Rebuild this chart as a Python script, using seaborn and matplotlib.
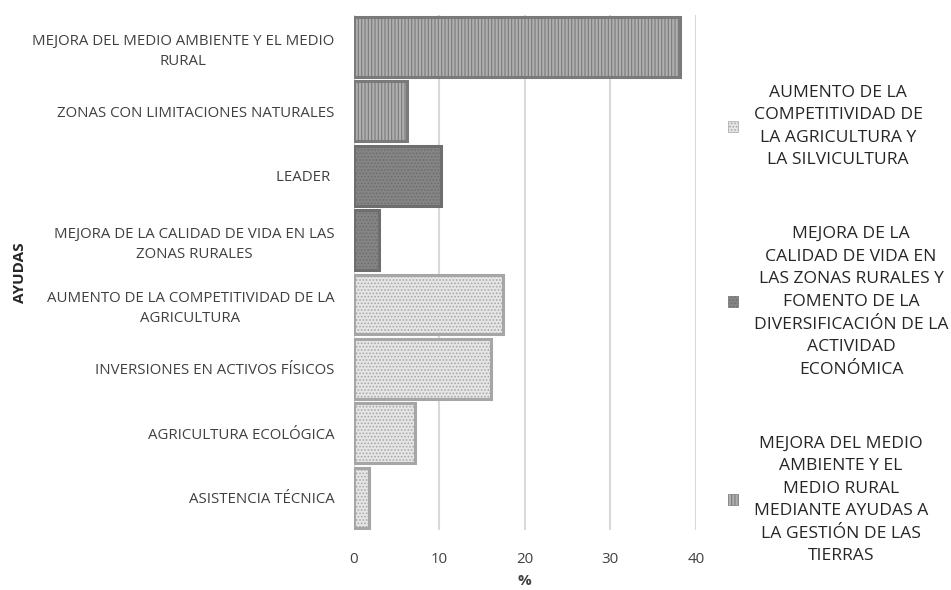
import pandas as pd
import matplotlib
matplotlib.use('Agg')
import matplotlib.pyplot as plt
import seaborn as sns
from matplotlib.patches import Patch

ayudas = ['MEJORA DEL MEDIO AMBIENTE Y EL MEDIO\nRURAL',
          'ZONAS CON LIMITACIONES NATURALES',
          'LEADER ',
          'MEJORA DE LA CALIDAD DE VIDA EN LAS\nZONAS RURALES',
          'AUMENTO DE LA COMPETITIVIDAD DE LA\nAGRICULTURA',
          'INVERSIONES EN ACTIVOS FÍSICOS',
          'AGRICULTURA ECOLÓGICA',
          'ASISTENCIA TÉCNICA']
porcentajes = [38.1, 6.2, 10.2, 3.0, 17.4, 16.0, 7.2, 1.8]
grupos = ['ambiente', 'ambiente', 'vida', 'vida', 'compet', 'compet', 'compet', 'compet']

leyenda = ['AUMENTO DE LA\nCOMPETITIVIDAD DE\nLA AGRICULTURA Y\nLA SILVICULTURA',
           'MEJORA DE LA\nCALIDAD DE VIDA EN\nLAS ZONAS RURALES Y\nFOMENTO DE LA\nDIVERSIFICACIÓN DE LA\nACTIVIDAD\nECONÓMICA',
           'MEJORA DEL MEDIO\nAMBIENTE Y EL\nMEDIO RURAL\nMEDIANTE AYUDAS A\nLA GESTIÓN DE LAS\nTIERRAS']

df = pd.DataFrame({'ayuda': ayudas, 'pct': porcentajes, 'grupo': grupos})

# colour / hatch per group
estilo = {'compet': ('#e6e6e6', '#a6a6a6', '.....'),
          'vida': ('#858585', '#6e6e6e', '.....'),
          'ambiente': ('#b0b0b0', '#7a7a7a', '|||||')}

sns.set_style('white')
plt.rcParams['font.family'] = ['Open Sans', 'DejaVu Sans']
plt.rcParams['hatch.linewidth'] = 0.8

fig = plt.figure(figsize=(9.51, 5.90), dpi=100)
ax = fig.add_axes([0.372, 0.102, 0.3596, 0.873])

orden = ['ambiente', 'vida', 'compet']
sns.barplot(data=df, y='ayuda', x='pct', hue='grupo', hue_order=orden, dodge=False,
            palette={g: estilo[g][0] for g in orden}, width=0.93, legend=False, ax=ax)

for cont, g in zip(ax.containers, orden):
    for bar in cont:
        bar.set_edgecolor(estilo[g][1])
        bar.set_hatch(estilo[g][2])
        bar.set_linewidth(2.2)

ax.set_xlim(0, 40)
ax.set_xticks([0, 10, 20, 30, 40])
ax.grid(axis='x', color='#d9d9d9', linewidth=1.5)
ax.set_axisbelow(True)
sns.despine(ax=ax, left=True, bottom=True)
ax.tick_params(axis='both', length=0, labelsize=10.8, colors='#404040')
ax.tick_params(axis='y', pad=14)
ax.tick_params(axis='x', pad=16)
for t in ax.get_yticklabels():
    t.set_multialignment('center')
    t.set_linespacing(1.45)

ax.set_xlabel('%', fontsize=11, fontweight='bold', color='#404040', labelpad=5)
ax.set_ylabel('AYUDAS', fontsize=11, fontweight='bold', color='#262626')
ax.yaxis.set_label_coords(-0.955, 0.5)

handles = [Patch(facecolor=estilo[g][0], edgecolor=estilo[g][1], hatch=estilo[g][2], linewidth=0.5)
           for g in ['compet', 'vida', 'ambiente']]
leg = fig.legend(handles, leyenda, loc='center left', bbox_to_anchor=(0.765, 0.45),
                 frameon=False, fontsize=12.6, handlelength=0.6, handleheight=0.6,
                 labelspacing=3.3, handletextpad=0.9, labelcolor='#262626',
                 borderpad=0, borderaxespad=0)
for t in leg.get_texts():
    t.set_multialignment('center')
    t.set_linespacing(1.55)

fig.savefig('out.png', dpi=100)
